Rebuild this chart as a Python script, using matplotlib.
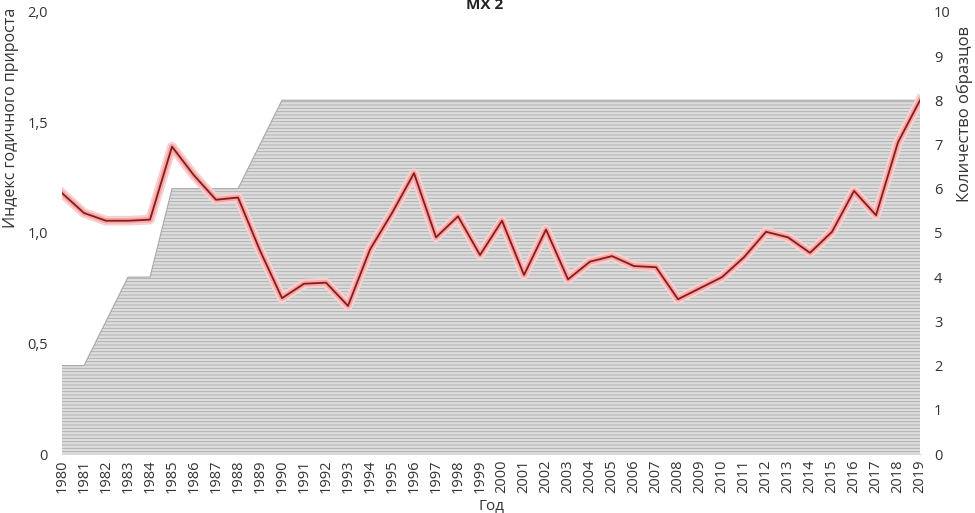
import matplotlib.pyplot as plt
import matplotlib.patheffects as pe

plt.rcParams['font.family'] = ['Open Sans', 'DejaVu Sans']
plt.rcParams['hatch.linewidth'] = 0.6

years = list(range(1980, 2020))

# индекс годичного прироста
growth = [1.18, 1.09, 1.055, 1.055, 1.06, 1.39, 1.26, 1.15, 1.16, 0.92,
          0.705, 0.77, 0.775, 0.67, 0.925, 1.09, 1.27, 0.98, 1.075, 0.90,
          1.055, 0.81, 1.015, 0.79, 0.87, 0.895, 0.85, 0.845, 0.70, 0.75,
          0.80, 0.89, 1.005, 0.98, 0.91, 1.005, 1.19, 1.08, 1.41, 1.60]

# количество образцов
samples = [2, 2, 3, 4, 4, 6, 6, 6, 6, 7,
           8, 8, 8, 8, 8, 8, 8, 8, 8, 8,
           8, 8, 8, 8, 8, 8, 8, 8, 8, 8,
           8, 8, 8, 8, 8, 8, 8, 8, 8, 8]

left_ticks = [0, 0.5, 1.0, 1.5, 2.0]
left_labels = ['0', '0,5', '1,0', '1,5', '2,0']
right_ticks = list(range(0, 11))

fig = plt.figure(figsize=(9.75, 5.13), dpi=100)
ax = fig.add_axes([0.0636, 0.115, 0.88, 0.862])
ax2 = ax.twinx()

# область с числом образцов (штриховка)
ax2.fill_between(years, samples, 0, facecolor='#dcdcdc', edgecolor='#ababab',
                 hatch='-----', linewidth=0)
ax2.plot(years, samples, color='#a8a8a8', linewidth=0.8)
ax2.set_ylim(0, 10)
ax2.set_yticks(right_ticks)
ax2.set_ylabel('Количество образцов', fontsize=12, color='#333333')
ax2.yaxis.set_label_coords(1.043, 0.77)

# линия индекса поверх
ax.set_zorder(ax2.get_zorder() + 1)
ax.patch.set_visible(False)
ax.plot(years, growth, color='#8a1a1a', linewidth=1.3,
        path_effects=[pe.Stroke(linewidth=7, foreground='#f9d0d0'),
                      pe.Stroke(linewidth=4, foreground='#f3a8a8'),
                      pe.Normal()])
ax.set_ylim(0, 2)
ax.set_yticks(left_ticks)
ax.set_yticklabels(left_labels)
ax.set_ylabel('Индекс годичного прироста', fontsize=11.5, color='#333333')
ax.yaxis.set_label_coords(-0.05, 0.76)
ax.set_xlim(1980, 2019)
ax.set_xticks(years)
ax.set_xticklabels([str(y) for y in years], rotation=90)
ax.set_xlabel('Год', fontsize=11, color='#333333', labelpad=4)

for a in (ax, ax2):
    for s in a.spines.values():
        s.set_visible(False)
    a.tick_params(length=0, labelsize=10.5, colors='#333333')
ax.spines['bottom'].set_visible(True)
ax.spines['bottom'].set_color('#d9d9d9')
ax.tick_params(axis='y', pad=10)
ax2.tick_params(axis='y', pad=10)
ax.tick_params(axis='x', pad=4)

fig.text(0.497, 0.99, 'MX 2', ha='center', va='center', fontsize=11,
         fontweight='bold', color='#222222')

fig.savefig('out.png', dpi=100)
